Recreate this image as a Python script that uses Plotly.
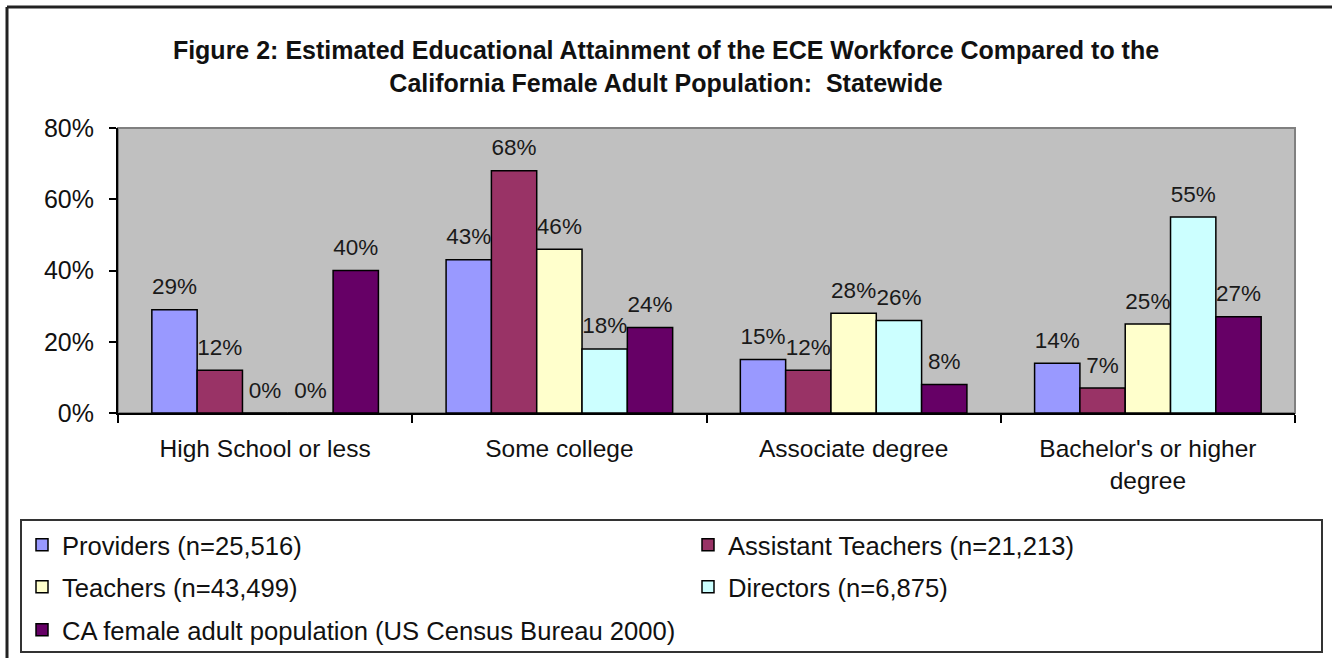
import plotly.graph_objects as go

categories = ["High School or less", "Some college", "Associate degree", "Bachelor's or higher<br>degree"]
series_names = [
    "Providers (n=25,516)",
    "Assistant Teachers (n=21,213)",
    "Teachers (n=43,499)",
    "Directors (n=6,875)",
    "CA female adult population (US Census Bureau 2000)",
]
providers = [0.29, 0.43, 0.15, 0.14]
assistant_teachers = [0.12, 0.68, 0.12, 0.07]
teachers = [0.00, 0.46, 0.28, 0.25]
directors = [0.00, 0.18, 0.26, 0.55]
ca_female = [0.40, 0.24, 0.08, 0.27]
series_values = [providers, assistant_teachers, teachers, directors, ca_female]
colors = ["#9999FF", "#993366", "#FFFFCC", "#CCFFFF", "#660066"]
legend_ids = ["legend", "legend2", "legend3", "legend4", "legend5"]
y_ticks = [0, 0.2, 0.4, 0.6, 0.8]

FONT = "Liberation Sans, Arial, sans-serif"

fig = go.Figure()
for name, vals, col, lg in zip(series_names, series_values, colors, legend_ids):
    fig.add_trace(go.Bar(
        x=categories, y=vals, name=name,
        marker=dict(color=col, line=dict(color="black", width=1.5)),
        text=[f"<span style='font-size:22.5px'>{round(v*100)}%</span><br>\u00a0" for v in vals],
        textposition="outside", cliponaxis=False, constraintext="none",
        textfont=dict(family=FONT, size=8, color="#1a1a1a"),
        legend=lg,
    ))

W, H = 1332, 658
L, R, T, B = 118, 37, 128, 245
pw, ph = W - L - R, H - T - B

def px(x):
    return (x - L) / pw

def py(y):
    return (H - B - y) / ph

leg_common = dict(orientation="h", xanchor="left", yanchor="middle",
                  font=dict(family=FONT, size=25.6, color="#111"),
                  bgcolor="rgba(0,0,0,0)")

fig.update_layout(
    width=W, height=H, autosize=False,
    margin=dict(l=L, r=R, t=T, b=B, pad=0, autoexpand=False),
    paper_bgcolor="white", plot_bgcolor="#C0C0C0",
    barmode="group", bargap=0.23, bargroupgap=0,
    font=dict(family=FONT, color="#111"),
    title=dict(
        text="<b>Figure 2: Estimated Educational Attainment of the ECE Workforce Compared to the<br>California Female Adult Population:  Statewide</b>",
        x=0.5, xref="container", xanchor="center", y=1 - 59 / H, yanchor="top",
        font=dict(family=FONT, size=25, color="#111"),
    ),
    xaxis=dict(type="category", tickson="boundaries", ticks="outside", ticklen=8,
               tickcolor="black", tickwidth=1.5, showline=True, linecolor="black", linewidth=2,
               showgrid=False, ticklabelstandoff=13,
               tickfont=dict(family=FONT, size=24.5, color="#111")),
    yaxis=dict(range=[0, 0.8], tickvals=y_ticks, tickformat=".0%", ticks="outside", ticklen=7,
               tickcolor="black", tickwidth=1.5, showline=True, linecolor="black", linewidth=2,
               showgrid=False, zeroline=False, ticklabelstandoff=10,
               tickfont=dict(family=FONT, size=25, color="#111")),
    legend=dict(x=px(22), y=py(545), **leg_common),
    legend2=dict(x=px(688), y=py(545), **leg_common),
    legend3=dict(x=px(22), y=py(587), **leg_common),
    legend4=dict(x=px(688), y=py(587), **leg_common),
    legend5=dict(x=px(22), y=py(630), **leg_common),
    showlegend=True,
)

shapes = [
    dict(type="rect", xref="paper", yref="paper", x0=0, x1=1, y0=0, y1=1,
         line=dict(color="#808080", width=2), layer="below"),
    dict(type="rect", xref="paper", yref="paper", x0=px(21), x1=px(1322), y0=py(652), y1=py(520),
         line=dict(color="#333", width=2)),
    dict(type="line", xref="paper", yref="paper", x0=px(7), x1=px(7), y0=py(7), y1=py(660),
         line=dict(color="#222", width=3)),
    dict(type="line", xref="paper", yref="paper", x0=px(7), x1=px(1334), y0=py(7), y1=py(7),
         line=dict(color="#222", width=3)),
]
fig.update_layout(shapes=shapes)

fig.write_html("out.html", config={"displayModeBar": False},
               post_script="document.body.style.margin='0';document.body.style.overflow='hidden';")
